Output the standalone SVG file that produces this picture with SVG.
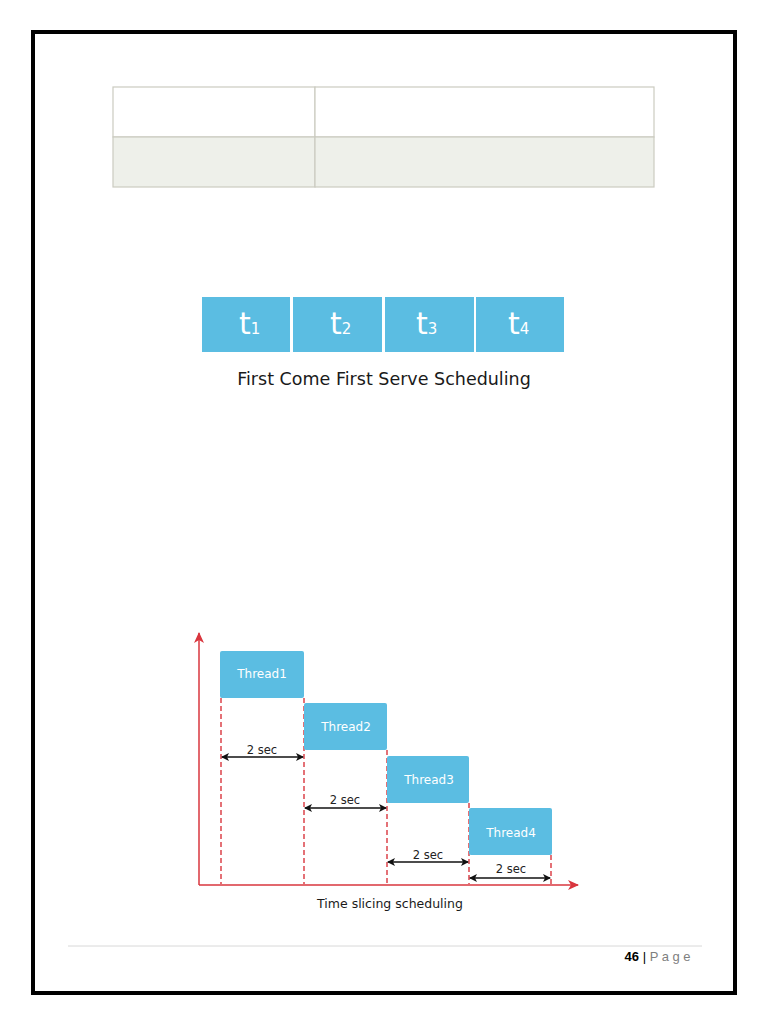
<svg xmlns="http://www.w3.org/2000/svg" width="768" height="1024" viewBox="0 0 768 1024">
<defs>
<style>
.tcell{stroke:#cbcbc0;stroke-width:1.2}
.fbox{fill:#5bbde2}
.tl{font-family:"DejaVu Sans",sans-serif;fill:#fff}
.cap{font-family:"DejaVu Sans",sans-serif;fill:#1a1a1a}
.thr{fill:#5bbde2}
.thl{font-family:"DejaVu Sans",sans-serif;font-size:12px;fill:#fff;text-anchor:middle}
.sec{font-family:"DejaVu Sans",sans-serif;font-size:11.5px;fill:#222;text-anchor:middle}
.dash{stroke:#d9363e;stroke-width:1.4;stroke-dasharray:5,3;fill:none}
.axis{stroke:#d9363e;stroke-width:1.5;fill:none}
.dim{stroke:#111;stroke-width:1.3;fill:none;marker-start:url(#ab);marker-end:url(#ae)}
</style>
<marker id="ae" markerWidth="8" markerHeight="8" refX="7" refY="4" orient="auto" markerUnits="userSpaceOnUse"><path d="M0,0 L8,4 L0,8 L2,4 z" fill="#111"/></marker>
<marker id="ab" markerWidth="8" markerHeight="8" refX="1" refY="4" orient="auto" markerUnits="userSpaceOnUse"><path d="M8,0 L0,4 L8,8 L6,4 z" fill="#111"/></marker>
<marker id="ar" markerWidth="12" markerHeight="10" refX="10" refY="5" orient="auto" markerUnits="userSpaceOnUse"><path d="M0,0 L11,5 L0,10 L3,5 z" fill="#d9363e"/></marker>
</defs>
<rect x="0" y="0" width="768" height="1024" fill="#fff"/>
<rect id="page-border" x="33" y="32" width="702" height="961" fill="none" stroke="#000" stroke-width="4"/>

<g id="table">
<rect class="tcell" x="113" y="87" width="202" height="50" fill="#fff"/>
<rect class="tcell" x="315" y="87" width="339" height="50" fill="#fff"/>
<rect class="tcell" x="113" y="137" width="202" height="50" fill="#eef0ea"/>
<rect class="tcell" x="315" y="137" width="339" height="50" fill="#eef0ea"/>
</g>

<g id="fcfs">
<g id="t1"><rect class="fbox" x="202" y="297" width="88" height="55"/><text class="tl" x="239" y="334" font-size="30">t<tspan font-size="15">1</tspan></text></g>
<g id="t2"><rect class="fbox" x="293" y="297" width="89" height="55"/><text class="tl" x="330" y="334" font-size="30">t<tspan font-size="15">2</tspan></text></g>
<g id="t3"><rect class="fbox" x="385" y="297" width="89" height="55"/><text class="tl" x="416" y="334" font-size="30">t<tspan font-size="15">3</tspan></text></g>
<g id="t4"><rect class="fbox" x="476" y="297" width="88" height="55"/><text class="tl" x="508" y="334" font-size="30">t<tspan font-size="15">4</tspan></text></g>
<text class="cap" x="384" y="385" font-size="17.5" text-anchor="middle">First Come First Serve Scheduling</text>
</g>

<g id="connectors">
<line class="axis" x1="199" y1="885" x2="199" y2="633" marker-end="url(#ar)"/>
<line class="axis" x1="199" y1="885" x2="578" y2="885" marker-end="url(#ar)"/>
<line class="dash" x1="221" y1="698" x2="221" y2="884"/>
<line class="dash" x1="304" y1="698" x2="304" y2="884"/>
<line class="dash" x1="387" y1="750" x2="387" y2="884"/>
<line class="dash" x1="469" y1="803" x2="469" y2="884"/>
<line class="dash" x1="551" y1="855" x2="551" y2="884"/>
<line class="dim" x1="222" y1="757" x2="303" y2="757"/>
<line class="dim" x1="305" y1="808" x2="386" y2="808"/>
<line class="dim" x1="388" y1="862" x2="468" y2="862"/>
<line class="dim" x1="470" y1="878" x2="550" y2="878"/>
</g>

<g id="thread1"><rect class="thr" x="220" y="651" width="84" height="47" rx="2"/><text class="thl" x="262" y="678">Thread1</text></g>
<g id="thread2"><rect class="thr" x="304" y="703" width="83" height="47" rx="2"/><text class="thl" x="346" y="731">Thread2</text></g>
<g id="thread3"><rect class="thr" x="387" y="756" width="82" height="47" rx="2"/><text class="thl" x="429" y="784">Thread3</text></g>
<g id="thread4"><rect class="thr" x="469" y="808" width="83" height="47" rx="2"/><text class="thl" x="511" y="837">Thread4</text></g>

<g id="labels">
<text class="sec" x="262" y="754">2 sec</text>
<text class="sec" x="345" y="804">2 sec</text>
<text class="sec" x="428" y="859">2 sec</text>
<text class="sec" x="511" y="873">2 sec</text>
<text class="cap" x="390" y="908" font-size="12.5" text-anchor="middle">Time slicing scheduling</text>
</g>

<g id="footer">
<line x1="68" y1="946" x2="702" y2="946" stroke="#d8d8d8" stroke-width="1"/>
<text x="694" y="961" font-family="Liberation Sans, sans-serif" font-size="13" text-anchor="end"><tspan font-weight="bold" fill="#000">46</tspan><tspan fill="#000"> | </tspan><tspan fill="#7f7f7f" letter-spacing="3.5">Page</tspan></text>
</g>
</svg>
